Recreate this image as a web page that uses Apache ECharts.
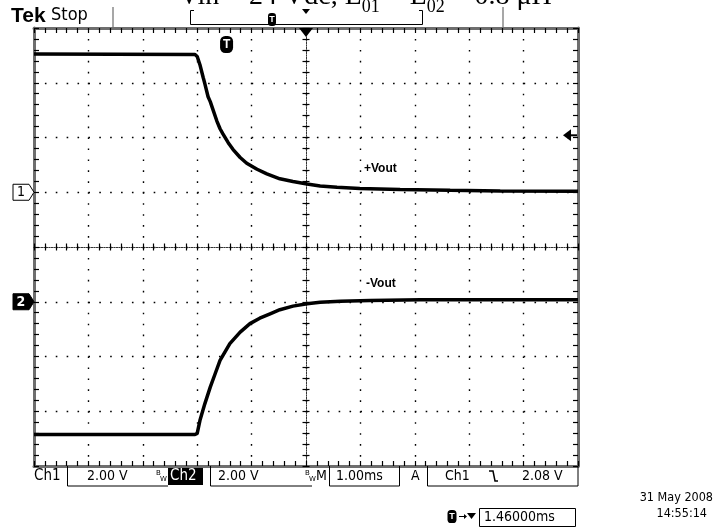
<!DOCTYPE html>
<html><head><meta charset="utf-8">
<script src="https://cdn.jsdelivr.net/npm/echarts@6/dist/echarts.min.js"></script>
<style>html,body{margin:0;padding:0;background:#fff}#c{width:720px;height:527px}</style>
</head><body><div id="c"></div>
<script>
// +Vout (CH1): time in ms from screen centre, level in volts
const ch1TimeMs = [-5.0, -2.04, -2.0, -1.95, -1.89, -1.86, -1.8, -1.76, -1.71, -1.64, -1.58, -1.53, -1.43, -1.34, -1.21, -1.09, -0.9, -0.72, -0.48, -0.24, 0.02, 0.26, 0.57, 0.99, 1.73, 2.65, 3.57, 5.0];
const ch1Volts  = [5.05, 5.03, 4.96, 4.66, 4.19, 3.97, 3.49, 3.31, 3.02, 2.61, 2.32, 2.14, 1.81, 1.56, 1.27, 1.06, 0.84, 0.67, 0.49, 0.39, 0.30, 0.23, 0.18, 0.14, 0.10, 0.07, 0.05, 0.04];
// -Vout (CH2)
const ch2TimeMs = [-5.0, -2.04, -2.0, -1.95, -1.86, -1.76, -1.67, -1.58, -1.4, -1.21, -1.03, -0.85, -0.66, -0.48, -0.24, 0.02, 0.26, 0.63, 1.18, 2.1, 5.0];
const ch2Volts  = [-4.85, -4.85, -4.81, -4.34, -3.73, -3.12, -2.63, -2.14, -1.53, -1.11, -0.80, -0.60, -0.44, -0.29, -0.16, -0.07, -0.02, 0.02, 0.05, 0.07, 0.07];

// scope settings
const voltsPerDiv = [2, 2];          // CH1, CH2
const offsetDiv = [1, -1];           // ground marker position, divisions from centre
const msPerDiv = 1;
const hDivs = 10, vDivs = 8;
const triggerLevelV = 2.08;
const triggerDelayMs = 1.46;

const statusTexts = { ch1: 'Ch1', v1: '2.00 V', ch2: 'Ch2', v2: '2.00 V', m: 'M', tb: '1.00ms', a: 'A', trigCh: 'Ch1', trigLvl: '2.08 V' };
const dateText = '31 May 2008';
const timeText = '14:55:14';
const delayText = '1.46000ms';
const titleParts = ['Vin = 24 Vdc, L', '01', ' = L', '02', ' = 0.8 μH'];

const zip = (a, b) => a.map((t, i) => [t, b[i]]);
const GRID = { left: 34, right: 142, top: 28, bottom: 61 };
const xMin = -hDivs / 2 * msPerDiv, xMax = hDivs / 2 * msPerDiv;
const chAxis = (i) => ({
  min: (-vDivs / 2 - offsetDiv[i]) * voltsPerDiv[i],
  max: (vDivs / 2 - offsetDiv[i]) * voltsPerDiv[i]
});
const statusFont = '14px "DejaVu Sans Condensed", "DejaVu Sans"';
const stampFont = '12.5px "DejaVu Sans Condensed", "DejaVu Sans"';
const dotH = [1.6, 54.4 / 5 - 1.6];   // dot every 0.2 div along horizontal lines
const dotV = [1.6, 54.75 / 5 - 1.6];  // dot every 0.2 div along vertical lines
const borderLine = { show: true, onZero: false, lineStyle: { color: '#6e6e6e', width: 3 } };
const tickStyle = (len, inside) => ({ show: true, inside, length: len, lineStyle: { color: '#000', width: 1.2 } });
const minor = (len) => ({ show: true, splitNumber: 5, length: len, lineStyle: { color: '#000', width: 1.2 } });

function xAx(extra) {
  return Object.assign({ type: 'value', min: xMin, max: xMax, interval: msPerDiv, axisLabel: { show: false }, splitLine: { show: false } }, extra);
}
function yAx(extra) {
  return Object.assign({ type: 'value', min: -vDivs / 2, max: vDivs / 2, interval: 1, axisLabel: { show: false }, splitLine: { show: false } }, extra);
}
const centreLine = { show: true, onZero: true, onZeroAxisIndex: 0, lineStyle: { color: '#333', width: 1, type: [1, 1.5] } };

const option = {
  animation: false,
  backgroundColor: '#fff',
  grid: Object.assign({ containLabel: false }, GRID),
  xAxis: [
    xAx({ position: 'bottom', axisLine: borderLine, axisTick: tickStyle(5, true), minorTick: minor(5),
          splitLine: { show: true, lineStyle: { color: '#000', width: 1.4, type: dotV } } }),
    xAx({ position: 'top', axisLine: borderLine, axisTick: tickStyle(5, true), minorTick: minor(5) }),
    xAx({ position: 'bottom', axisLine: centreLine, axisTick: tickStyle(3.5, true), minorTick: minor(3.5) }),
    xAx({ position: 'bottom', axisLine: centreLine, axisTick: tickStyle(3.5, false), minorTick: minor(3.5) })
  ],
  yAxis: [
    yAx({ position: 'left', axisLine: borderLine, axisTick: tickStyle(5, true), minorTick: minor(5),
          splitLine: { show: true, lineStyle: { color: '#000', width: 1.4, type: dotH } } }),
    yAx({ position: 'right', axisLine: borderLine, axisTick: tickStyle(5, true), minorTick: minor(5) }),
    yAx({ position: 'left', axisLine: centreLine, axisTick: tickStyle(3.5, true), minorTick: minor(3.5) }),
    yAx({ position: 'left', axisLine: centreLine, axisTick: tickStyle(3.5, false), minorTick: minor(3.5) }),
    Object.assign({ type: 'value', show: false }, chAxis(0)),
    Object.assign({ type: 'value', show: false }, chAxis(1))
  ],
  series: [
    { name: '+Vout', type: 'line', xAxisIndex: 0, yAxisIndex: 4, data: zip(ch1TimeMs, ch1Volts),
      showSymbol: false, lineStyle: { color: '#000', width: 3.5 }, z: 5 },
    { name: '-Vout', type: 'line', xAxisIndex: 0, yAxisIndex: 5, data: zip(ch2TimeMs, ch2Volts),
      showSymbol: false, lineStyle: { color: '#000', width: 3.5 }, z: 5 }
  ]
};

const chart = echarts.init(document.getElementById('c'), null, { renderer: 'canvas' });
chart.setOption(option);

// pixel helpers from the axes
const px = (ms) => chart.convertToPixel({ xAxisIndex: 0 }, ms);
const py = (ch, v) => chart.convertToPixel({ yAxisIndex: 4 + ch }, v);
const plotL = px(xMin), plotR = px(xMax), plotT = chart.convertToPixel({ yAxisIndex: 0 }, vDivs / 2), plotB = chart.convertToPixel({ yAxisIndex: 0 }, -vDivs / 2);
const midX = px(0);

function txt(x, y, text, font, extra) {
  return { type: 'text', x, y, silent: true, z: 20, style: Object.assign({ text, font, fill: '#000', verticalAlign: 'middle' }, extra || {}) };
}
function ln(x1, y1, x2, y2, color, w) {
  return { type: 'line', silent: true, z: 20, shape: { x1, y1, x2, y2 }, style: { stroke: color || '#000', lineWidth: w || 1 } };
}
function poly(points, fill) {
  return { type: 'polygon', silent: true, z: 20, shape: { points }, style: { fill: fill || '#000' } };
}
function tIcon(cx, top, w, h, fs) {
  return [
    { type: 'rect', silent: true, z: 20, shape: { x: cx - w / 2, y: top, width: w, height: h, r: [w / 2.5, w / 2.5, w / 2.5, w / 2.5] }, style: { fill: '#000' } },
    txt(cx, top + h / 2, 'T', 'bold ' + fs + 'px "Liberation Sans"', { fill: '#fff', align: 'center' })
  ];
}
function chMarker(y, label, filled) {
  const pts = [[13, y - 8], [29, y - 8], [34, y], [29, y + 8], [13, y + 8]];
  return [
    { type: 'polygon', silent: true, z: 20, shape: { points: pts }, style: { fill: filled ? '#000' : '#fff', stroke: '#000', lineWidth: 1 } },
    txt(21, y + 0.5, label, (filled ? 'bold ' : '') + '14px "DejaVu Sans Condensed", "DejaVu Sans"', { fill: filled ? '#fff' : '#000', align: 'center' })
  ];
}

const g = [];
// partially visible title line above the screen
const serif = '28px "Liberation Serif"', serifSub = '18px "Liberation Serif"';
let tx = 179;
titleParts.forEach((p, i) => {
  const sub = i % 2 === 1;
  const f = sub ? serifSub : serif;
  g.push({ type: 'text', x: tx, y: sub ? 16 : 11, silent: true, z: 20, style: { text: p, font: f, fill: '#000', verticalAlign: 'bottom' } });
  tx += echarts.format.getTextRect ? echarts.format.getTextRect(p, f).width : p.length * 12;
});
// header
g.push(txt(11, 16, 'Tek', 'bold 21px "Liberation Sans Narrow", "Liberation Sans"', { fill: '#000' }));
g.push(txt(51, 15, 'Stop', '18px "DejaVu Sans Condensed", "DejaVu Sans"'));
g.push(ln(113, 7, 113, 27, '#8a8a8a', 1.5), ln(503, 7, 503, 27, '#8a8a8a', 1.5));
g.push({ type: 'polyline', silent: true, z: 20, shape: { points: [[194, 10.5], [190.5, 10.5], [190.5, 24.5], [422.5, 24.5], [422.5, 10.5], [419, 10.5]] }, style: { stroke: '#000', lineWidth: 1, fill: null } });
g.push(...tIcon(272, 13, 8, 13, 9));
g.push(poly([[302, 9], [310, 9], [306, 14]]));
// horizontal position marker on the graticule top edge
g.push(poly([[midX - 7, plotT], [midX + 7, plotT], [midX, plotT + 9]]));
// trigger point
g.push(...tIcon(px(-triggerDelayMs), 36, 13, 17, 12));
// trigger level arrow on the right edge
const ty = py(0, triggerLevelV);
g.push(poly([[plotR - 15, ty], [plotR - 7, ty - 6], [plotR - 7, ty + 6]]));
g.push(ln(plotR - 8, ty, plotR - 1, ty, '#000', 2));
// channel ground markers
g.push(...chMarker(py(0, 0), '1', false));
g.push(...chMarker(py(1, 0), '2', true));
// trace labels
g.push(txt(364, 169, '+Vout', 'bold 12px "Liberation Sans"'));
g.push(txt(366, 284, '-Vout', 'bold 12px "Liberation Sans"'));

// status bar
const sy = plotB + 10, bb = plotB + 20;
g.push(txt(34, sy, statusTexts.ch1, '15px "DejaVu Sans Condensed", "DejaVu Sans"'));
g.push(ln(67.5, plotB, 67.5, bb), ln(67.5, bb, 168, bb));
g.push(txt(87, sy, statusTexts.v1, statusFont));
g.push(txt(156, sy - 3, 'B', '7px "DejaVu Sans"'), txt(160, sy + 3, 'W', '7px "DejaVu Sans"'));
g.push({ type: 'rect', silent: true, z: 20, shape: { x: 168, y: plotB + 2, width: 35, height: 17 }, style: { fill: '#000' } });
g.push(txt(170, sy, statusTexts.ch2, '15px "DejaVu Sans Condensed", "DejaVu Sans"', { fill: '#fff' }));
g.push(ln(210.5, plotB, 210.5, bb), ln(210.5, bb, 312, bb));
g.push(txt(218, sy, statusTexts.v2, statusFont));
g.push(txt(305, sy - 3, 'B', '7px "DejaVu Sans"'), txt(309, sy + 3, 'W', '7px "DejaVu Sans"'));
g.push(txt(316, sy, statusTexts.m, statusFont));
g.push(ln(329.5, plotB, 329.5, bb), ln(329.5, bb, 399.5, bb), ln(399.5, plotB, 399.5, bb));
g.push(txt(336, sy, statusTexts.tb, statusFont));
g.push(txt(411, sy, statusTexts.a, statusFont));
g.push(ln(427.5, plotB, 427.5, bb), ln(427.5, bb, plotR, bb), ln(plotR, plotB, plotR, bb));
g.push(txt(445, sy, statusTexts.trigCh, statusFont));
g.push({ type: 'polyline', silent: true, z: 20, shape: { points: [[489, sy - 5], [493, sy - 5], [495, sy + 5], [498, sy + 5]] }, style: { stroke: '#000', lineWidth: 1.5, fill: null } });
g.push(txt(522, sy, statusTexts.trigLvl, statusFont));
// date / time
g.push(txt(713, 498, dateText, stampFont, { align: 'right' }));
g.push(txt(707, 514, timeText, stampFont, { align: 'right' }));
// delay readout
g.push(...tIcon(452, 510, 9, 13, 9));
g.push(ln(459, 516.5, 466, 516.5, '#000', 1), poly([[464, 514], [467, 516.5], [464, 519]]));
g.push(poly([[467, 513], [476, 513], [471.5, 519]]));
g.push({ type: 'rect', silent: true, z: 20, shape: { x: 479.5, y: 508.5, width: 96, height: 18 }, style: { fill: null, stroke: '#000', lineWidth: 1 } });
g.push(txt(484, 517, delayText, statusFont));

chart.setOption({ graphic: g });
</script></body></html>
